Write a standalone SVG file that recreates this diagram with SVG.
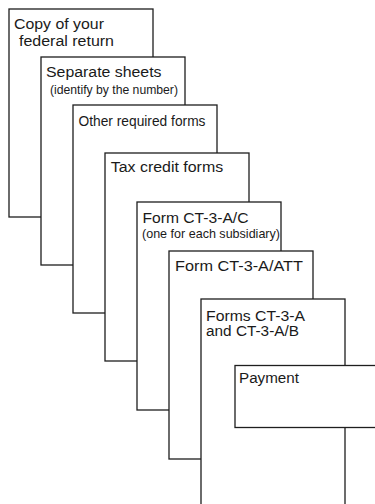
<svg xmlns="http://www.w3.org/2000/svg" width="375" height="504" viewBox="0 0 375 504">
<style>
.sheet{fill:#fff;stroke:#1e1e1e;stroke-width:1.3}
.t{font-family:"Liberation Sans",Arial,Helvetica,sans-serif;font-size:15.5px;fill:#1a1a1a}
.s{font-family:"Liberation Sans",Arial,Helvetica,sans-serif;font-size:13px;fill:#1a1a1a}
</style>
<rect width="375" height="504" fill="#fff"/>
<g id="node-federal-return">
<rect class="sheet" x="9" y="9" width="144" height="208"/>
<text class="t" x="14" y="29" textLength="90" lengthAdjust="spacingAndGlyphs">Copy of your</text>
<text class="t" x="19" y="45.5" textLength="95" lengthAdjust="spacingAndGlyphs">federal return</text>
</g>
<g id="node-separate-sheets">
<rect class="sheet" x="41" y="57" width="144" height="208"/>
<text class="t" x="46" y="77" textLength="115.5" lengthAdjust="spacingAndGlyphs">Separate sheets</text>
<text class="s" x="50" y="94" textLength="128" lengthAdjust="spacingAndGlyphs">(identify by the number)</text>
</g>
<g id="node-other-required">
<rect class="sheet" x="73" y="105" width="144" height="208"/>
<text class="t" x="78.5" y="125.5" textLength="127" lengthAdjust="spacingAndGlyphs">Other required forms</text>
</g>
<g id="node-tax-credit">
<rect class="sheet" x="105" y="153" width="144" height="208"/>
<text class="t" x="110.7" y="172.3" textLength="112.5" lengthAdjust="spacingAndGlyphs">Tax credit forms</text>
</g>
<g id="node-ct3ac">
<rect class="sheet" x="137" y="202" width="144" height="208"/>
<text class="t" x="142.5" y="222.5" textLength="106" lengthAdjust="spacingAndGlyphs">Form CT-3-A/C</text>
<text class="s" x="142" y="237.5" textLength="138" lengthAdjust="spacingAndGlyphs">(one for each subsidiary)</text>
</g>
<g id="node-ct3aatt">
<rect class="sheet" x="169" y="251" width="144" height="208"/>
<text class="t" x="175" y="271" textLength="128" lengthAdjust="spacingAndGlyphs">Form CT-3-A/ATT</text>
</g>
<g id="node-ct3a">
<rect class="sheet" x="201" y="299" width="144" height="215"/>
<text class="t" x="206" y="320.5" textLength="99" lengthAdjust="spacingAndGlyphs">Forms CT-3-A</text>
<text class="t" x="206" y="336" textLength="93" lengthAdjust="spacingAndGlyphs">and CT-3-A/B</text>
</g>
<g id="node-payment">
<rect class="sheet" x="235" y="365.5" width="150" height="62"/>
<text class="t" x="239" y="382.7" textLength="60" lengthAdjust="spacingAndGlyphs">Payment</text>
</g>
<g id="connectors"/>
</svg>
